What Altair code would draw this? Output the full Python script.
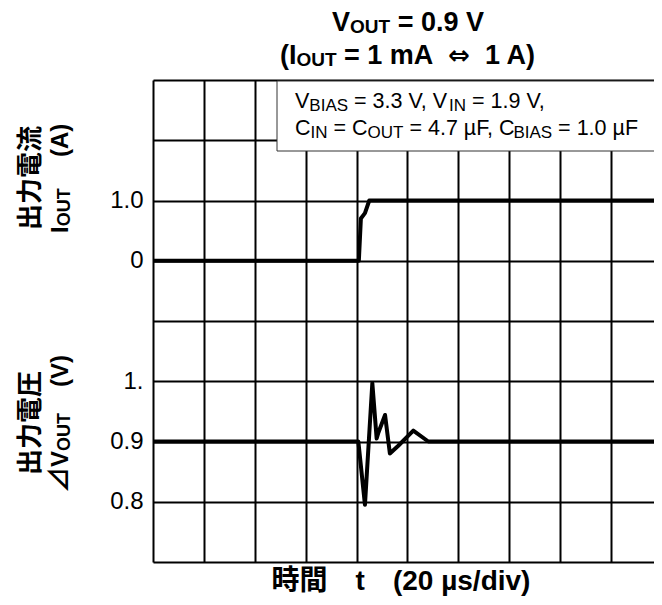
import altair as alt
import pandas as pd

# ---------------- data ----------------
# output current step, time in microseconds (20 us / div), current in A
I_TIME_US = [0, 80.9, 81.7, 83.3, 85.0, 200]
I_OUT_A = [0, 0, 0.70, 0.79, 1.0, 1.0]

# output voltage transient, time in microseconds, voltage in V
V_TIME_US = [0, 80.7, 83.3, 86.2, 87.9, 88.6, 91.2, 93.1, 96.4, 102.3, 108.2, 200]
V_OUT_V = [0.9, 0.9, 0.795, 0.997, 0.905, 0.915, 0.944, 0.880, 0.893, 0.918, 0.900, 0.900]

# visible time window (the last division is cut off at the right edge)
X_DOMAIN_US = [0, 196.9]
X_GRID_US = [0, 20, 40, 60, 80, 100, 120, 140, 160, 180]
Y_DOMAIN_DIV = [0, 8]
Y_GRID_DIV = [0, 1, 2, 3, 4, 5, 6, 7, 8]
Y_TICK_DIV = [1, 2, 3, 5, 6]
Y_TICK_LABELS = ["0.8", "0.9", "1.", "0", "1.0"]

# scale mapping of both traces onto the common 8-division grid
I_ZERO_DIV = 5      # 0 A sits on division 5, 1 A per division
V_ZERO_V = 0.7      # division 0 = 0.7 V, 0.1 V per division
V_PER_DIV = 0.1

LATIN = "Liberation Sans, DejaVu Sans, sans-serif"
ARROW = "DejaVu Sans, sans-serif"
CJK = "Noto Sans CJK JP, sans-serif"
MIXED = "Liberation Sans, Noto Sans CJK JP, sans-serif"

# approximate advance widths (em) for layout of sub-scripted runs
AB = {' ': .278, '(': .333, ')': .333, '.': .278, '/': .278, '=': .584, 'A': .722,
      'I': .278, 'O': .778, 'T': .611, 'U': .722, 'V': .667, 'd': .611, 'i': .278,
      'm': .889, 's': .556, 't': .333, 'v': .556, 'µ': .611, '⇔': .838}
AR = {' ': .278, ',': .278, '.': .278, '=': .584, 'A': .667, 'B': .667, 'C': .722,
      'F': .611, 'I': .278, 'N': .722, 'O': .778, 'S': .667, 'T': .611, 'U': .722,
      'V': .667, 'µ': .556}


def width(s, size, bold):
    tbl = AB if bold else AR
    tot = 0
    for ch in s:
        if ch.isdigit():
            tot += .556
        else:
            tot += tbl.get(ch, 1.0)
    return tot * size


ONE = alt.Data(values=[{"k": 0}])


def txt(s, x, y, size, font=LATIN, bold=True, angle=0, align="left"):
    return alt.Chart(ONE).mark_text(
        text=s, font=font, fontSize=size, fontWeight="bold" if bold else "normal",
        align=align, baseline="alphabetic", angle=angle, color="black"
    ).encode(x=alt.value(x), y=alt.value(y))


def hrun(pieces, x0, y0, bold):
    layers = []
    x = x0
    for p in pieces:
        s, size, dy = p[:3]
        font = p[3] if len(p) > 3 else LATIN
        adj = p[4] if len(p) > 4 else 0
        x += adj
        lead = len(s) - len(s.lstrip(" "))
        core = s.strip(" ")
        layers.append(txt(core, x + width(" " * lead, size, bold), y0 + dy, size,
                          font=font, bold=bold))
        x += width(s, size, bold)
    return layers


def hrun_centered(pieces, xc, y0, bold):
    tot = sum(width(p[0], p[1], bold) for p in pieces)
    return hrun(pieces, xc - tot / 2, y0, bold)


def vrun(pieces, xb, y0):
    layers = []
    y = y0
    for s, size, dx, font in pieces:
        layers.append(txt(s, xb + dx, y, size, font=font, bold=True, angle=270))
        y -= width(s, size, True)
    return layers


# ---------------- traces ----------------
df_i = pd.DataFrame({"t": I_TIME_US, "val": I_OUT_A})
df_v = pd.DataFrame({"t": V_TIME_US, "val": V_OUT_V})

label_expr = " : ".join(
    f"datum.value == {v} ? '{l}'" for v, l in zip(Y_TICK_DIV, Y_TICK_LABELS)
) + " : ''"

x_enc = alt.X(
    "t:Q",
    scale=alt.Scale(domain=X_DOMAIN_US, nice=False, zero=False),
    axis=alt.Axis(values=X_GRID_US, grid=True, labels=False, ticks=False, domain=False,
                  title=None, gridColor="black", gridWidth=2, gridOpacity=1),
)
y_enc = alt.Y(
    "div:Q",
    scale=alt.Scale(domain=Y_DOMAIN_DIV, nice=False, zero=False),
    axis=alt.Axis(values=Y_GRID_DIV, grid=True, ticks=False, tickSize=0, domain=False,
                  labelExpr=label_expr, labelFont=LATIN, labelFontSize=24,
                  labelColor="black", labelPadding=10, labelFlush=False,
                  labelOverlap=False, title=None, gridColor="black", gridWidth=2,
                  gridOpacity=1),
)

line_i = alt.Chart(df_i).transform_calculate(
    div=f"datum.val + {I_ZERO_DIV}"
).mark_line(color="black", strokeWidth=4, strokeJoin="round", clip=True).encode(x=x_enc, y=y_enc)

line_v = alt.Chart(df_v).transform_calculate(
    div=f"(datum.val - {V_ZERO_V}) / {V_PER_DIV}"
).mark_line(color="black", strokeWidth=4, strokeJoin="round", clip=True).encode(x=x_enc, y=y_enc)

# ---------------- annotation box ----------------
box = alt.Chart(ONE).mark_rect(fill="white", stroke="#333", strokeWidth=1).encode(
    x=alt.value(124), x2=alt.value(540), y=alt.value(1), y2=alt.value(71)
)

texts = []
# chart title (two lines)
texts += hrun_centered([("V", 27, 0), ("OUT", 19, 2), (" = 0.9 V", 27, 0)], 255, -49, True)
texts += hrun_centered([("(I", 27, 0), ("OUT", 19, 2), (" = 1 mA  ", 27, 0),
                        ("⇔", 26, 0, ARROW), ("  1 A)", 27, 0)], 255, -16, True)

# conditions
texts += hrun([("V", 21.5, 0), ("BIAS", 17, 3), (" = 3.3 V, V", 21.5, 0), ("IN", 17, 3),
               (" = 1.9 V,", 21.5, 0)], 142, 28, False)
texts += hrun([("C", 21.5, 0), ("IN", 17, 3), (" = C", 21.5, 0), ("OUT", 17, 3),
               (" = 4.7 µF, C", 21.5, 0), ("BIAS", 17, 3, LATIN, -3), (" = 1.0 µF", 21.5, 0)],
              142, 55, False)

# y titles (vertical)
texts.append(txt("出力電流", -114, 150, 26, font=CJK, angle=270))
texts += vrun([("I", 24, 0, LATIN), ("OUT", 18, 2, LATIN)], -85, 153)
texts.append(txt("(A)", -85, 77, 24, angle=270))

texts.append(txt("出力電圧", -114, 395, 26, font=CJK, angle=270))
texts += vrun([("⊿", 26, 0, CJK), ("V", 24, 0, LATIN), ("OUT", 18, 2, LATIN)], -85, 413)
texts.append(txt("(V)", -85, 307, 24, angle=270))

# x title
texts.append(txt("時間　t　(20 µs/div)", 248, 510, 28, font=MIXED, align="center"))

chart = alt.layer(line_i, line_v, box, *texts).properties(
    width=501,
    height=482,
    autosize=alt.AutoSizeParams(type="none"),
    padding={"left": 145, "top": 72, "right": 0, "bottom": 34},
).configure_view(stroke=None).configure(background="white")

chart.save("out.html", embed_options={"renderer": "svg", "actions": False})
